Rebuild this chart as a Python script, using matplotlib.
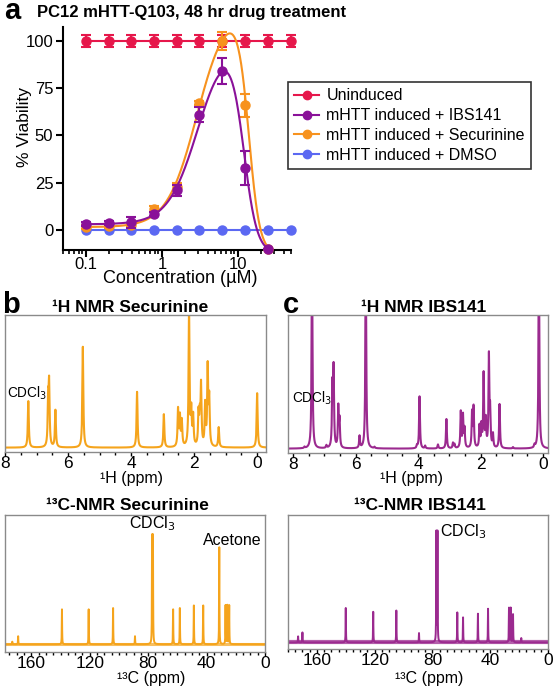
import numpy as np
import matplotlib
matplotlib.use('Agg')
import matplotlib.pyplot as plt
from matplotlib.lines import Line2D
from matplotlib.ticker import LogLocator, NullFormatter, FixedLocator, FixedFormatter, MultipleLocator

plt.rcParams['font.family'] = ['Liberation Sans', 'DejaVu Sans']

W, H = 555, 689

# ---- panel a: viability data ----
conc = [0.1, 0.2, 0.39, 0.78, 1.56, 3.125, 6.25, 12.5, 25, 50]
uninduced = [100, 100, 100, 100, 100, 100, 100, 100, 100, 100]
uninduced_err = [3, 3, 3, 3, 3, 3, 3, 3, 3, 3]
dmso = [0, 0, 0, 0, 0, 0, 0, 0, 0, 0]
conc_drug = [0.1, 0.2, 0.39, 0.78, 1.56, 3.125, 6.25, 12.5, 25]
ibs141 = [3, 3.5, 4, 8.5, 21, 61, 84, 33, -10]
ibs141_err = [1, 1, 3, 1, 3, 4, 7, 9, 0]
securinine = [1.5, 2, 2.5, 11, 23, 67, 100, 66, -10]
securinine_err = [1, 1, 1, 1.5, 2, 1, 5, 6, 0]

# bell-shaped dose-response fit parameters (plateau1, dip, plateau2, logEC1, n1, logEC2, n2)
ibs141_fit = [3, 105, -12, 0.477, 2.2, 1.078, 4.96]
securinine_fit = [1.5, 120, -12, 0.462, 2.2, 1.144, 6.0]

series_names = ['Uninduced', 'mHTT induced + IBS141',
                'mHTT induced + Securinine', 'mHTT induced + DMSO']
RED, PURPLE, ORANGE, BLUE = '#E6174B', '#8A1199', '#F7921E', '#5B68F2'

# ---- NMR peak lists (ppm, relative height) ----
h1_sec_ppm = [7.26, 6.63, 6.60, 6.40, 5.53, 3.81, 2.96, 2.51, 2.45, 2.39, 2.16,
              2.09, 2.03, 1.86, 1.82, 1.78, 1.65, 1.57, 1.52, 1.22, 0.00]
h1_sec_int = [0.35, 0.33, 0.45, 0.28, 0.76, 0.42, 0.25, 0.28, 0.22, 0.19, 1.05,
              0.25, 0.22, 0.24, 0.20, 0.45, 0.31, 0.59, 0.35, 0.15, 0.41]

h1_ibs_ppm = [7.63, 7.39, 6.93, 6.74, 6.70, 6.55, 6.51, 5.87, 5.67, 5.39, 4.03,
              3.95, 3.77, 3.36, 3.09, 2.88, 2.83, 2.63, 2.56, 2.51, 2.27, 2.22,
              2.03, 1.97, 1.90, 1.83, 1.73, 1.69, 1.60, 1.39, 0.96, 0.27, 0.13]
h1_ibs_int = [0.01, 1.5, 0.02, 0.45, 0.58, 0.30, 0.20, 0.09, 1.5, 0.01, 0.02,
              0.39, 0.02, 0.03, 0.22, 0.04, 0.03, 0.27, 0.24, 0.14, 0.26, 0.30,
              0.16, 0.16, 0.55, 0.20, 0.68, 0.25, 0.10, 0.33, 0.01, 0.02, 1.5]

c13_sec_ppm = [173, 169, 139, 120.7, 104, 89, 77.3, 76.7, 62.9, 58.3, 48.7,
               42.3, 31.3, 27.0, 25.8, 24.5]
c13_sec_int = [0.02, 0.062, 0.27, 0.27, 0.28, 0.062, 0.82, 0.82, 0.27, 0.28,
               0.30, 0.30, 0.75, 0.30, 0.30, 0.30]

c13_ibs_ppm = [173, 170, 140, 121, 105, 89.3, 77.3, 76.5, 62.8, 58.8, 48.5,
               41.5, 27.0, 25.8, 24.2, 18.5]
c13_ibs_int = [0.047, 0.078, 0.27, 0.24, 0.25, 0.073, 0.86, 0.86, 0.235, 0.196,
               0.225, 0.264, 0.27, 0.27, 0.22, 0.034]

NMR_ORANGE = '#F5A41C'
NMR_PURPLE = '#9B2A8F'


def rect(x0, y0, x1, y1):
    """pixel box (top-left origin) -> figure fraction rect"""
    return [x0 / W, 1 - y1 / H, (x1 - x0) / W, (y1 - y0) / H]


def fx(x):
    return x / W


def fy(y):
    return 1 - y / H


def bell(x, p):
    p1, dip, p2, le1, n1, le2, n2 = p
    lx = np.log10(x)
    s1 = (p1 - dip) / (1 + 10 ** ((lx - le1) * n1))
    s2 = (p2 - dip) / (1 + 10 ** ((le2 - lx) * n2))
    return dip + s1 + s2


def spectrum(ppm, inten, lo, hi, width, step):
    grid = np.arange(lo, hi, step)
    y = np.zeros_like(grid)
    for p, h in zip(ppm, inten):
        y += h * width ** 2 / ((grid - p) ** 2 + width ** 2)
    return grid, y


fig = plt.figure(figsize=(W / 100, H / 100), dpi=100)

# ================= panel a =================
ax = fig.add_axes(rect(63, 27, 291, 250))
ax.set_xscale('log')
ax.set_xlim(0.05, 50)
ax.set_ylim(-10.6, 107.4)

ax.errorbar(conc, uninduced, yerr=uninduced_err, fmt='-o', color=RED, ms=6.5,
            lw=1.5, capsize=3.5, elinewidth=1.5, capthick=1.5, clip_on=False, zorder=3)
ax.plot(conc, dmso, '-o', color=BLUE, ms=6.5, lw=1.5, clip_on=False, zorder=3)

xs = np.logspace(-1, np.log10(25), 400)
ax.plot(xs, bell(xs, securinine_fit), color=ORANGE, lw=1.5, zorder=4, clip_on=False)
ax.errorbar(conc_drug, securinine, yerr=securinine_err, fmt='o', color=ORANGE,
            ms=6.5, capsize=3.5, elinewidth=1.5, capthick=1.5, clip_on=False, zorder=4)
ax.plot(xs, bell(xs, ibs141_fit), color=PURPLE, lw=1.5, zorder=5, clip_on=False)
ax.errorbar(conc_drug, ibs141, yerr=ibs141_err, fmt='o', color=PURPLE,
            ms=6.5, capsize=3.5, elinewidth=1.5, capthick=1.5, clip_on=False, zorder=5)

for s in ['top', 'right']:
    ax.spines[s].set_visible(False)
for s in ['left', 'bottom']:
    ax.spines[s].set_linewidth(1.5)
ax.set_yticks([0, 25, 50, 75, 100])
ax.xaxis.set_major_locator(FixedLocator([0.1, 1, 10]))
ax.xaxis.set_major_formatter(FixedFormatter(['0.1', '1', '10']))
ax.xaxis.set_minor_locator(LogLocator(base=10, subs=np.arange(2, 10)))
ax.xaxis.set_minor_formatter(NullFormatter())
ax.tick_params(axis='y', which='major', labelsize=12, width=1.5, length=5, pad=2)
ax.tick_params(axis='x', which='major', labelsize=12, width=1.5, length=5, pad=0)
ax.tick_params(axis='x', which='minor', width=1.2, length=3)

fig.text(fx(25), fy(127), '% Viability', rotation=90, ha='center', va='center', fontsize=12.5)
fig.text(fx(180), fy(279), 'Concentration (µM)', ha='center', va='center', fontsize=13)
fig.text(fx(37), fy(13), 'PC12 mHTT-Q103, 48 hr drug treatment', ha='left',
         va='center', fontsize=12, fontweight='bold')

handles = [Line2D([], [], color=c, marker='o', ms=6, lw=1.5)
           for c in [RED, PURPLE, ORANGE, BLUE]]
leg = fig.legend(handles, series_names, loc='upper left',
                 bbox_to_anchor=(fx(288), fy(82)), fontsize=11.5, frameon=True,
                 fancybox=False, edgecolor='black', borderpad=0.4,
                 labelspacing=0.3, handlelength=1.55, handletextpad=0.45,
                 borderaxespad=0)
leg.get_frame().set_linewidth(1.2)

# ================= NMR panels =================
def nmr_axes(box, xlim, ylim, major, minor):
    a = fig.add_axes(rect(*box))
    a.set_xlim(*xlim)
    a.set_ylim(*ylim)
    a.set_yticks([])
    for s in a.spines.values():
        s.set_color('#8a8a8a')
        s.set_linewidth(1.0)
    a.xaxis.set_major_locator(MultipleLocator(major))
    a.xaxis.set_minor_locator(MultipleLocator(minor))
    a.tick_params(axis='x', which='major', labelsize=12.5, length=3, width=1, pad=0)
    a.tick_params(axis='x', which='minor', length=2, width=1)
    return a


# b: 1H securinine
ax_b1 = nmr_axes((5, 315, 266, 452), (8.0, -0.28), (-0.033, 1.0), 2, 0.5)
g, y = spectrum(h1_sec_ppm, h1_sec_int, -0.3, 8.1, 0.018, 0.001)
ax_b1.plot(g, y, color=NMR_ORANGE, lw=1.5)
ax_b1.text(7.93, 0.41, 'CDCl$_3$', fontsize=9.8, ha='left', va='center')

# c: 1H IBS141
ax_c1 = nmr_axes((288, 315, 548, 453), (8.16, -0.16), (-0.0325, 1.0), 2, 0.5)
g, y = spectrum(h1_ibs_ppm, h1_ibs_int, -0.2, 8.2, 0.016, 0.001)
ax_c1.plot(g, y, color=NMR_PURPLE, lw=1.5)
ax_c1.text(8.04, 0.38, 'CDCl$_3$', fontsize=9.8, ha='left', va='center')

# b: 13C securinine
ax_b2 = nmr_axes((5, 515, 265, 652), (178, 0), (-0.06, 1.0), 40, 5)
g, y = spectrum(c13_sec_ppm, c13_sec_int, 0, 180, 0.12, 0.01)
ax_b2.plot(g, y, color=NMR_ORANGE, lw=1.4)
ax_b2.axhline(0, color=NMR_ORANGE, lw=2.2, alpha=0.7)
ax_b2.text(77.5, 0.93, 'CDCl$_3$', fontsize=11.5, ha='center', va='center')
ax_b2.text(22.6, 0.8, 'Acetone', fontsize=11.5, ha='center', va='center')

# c: 13C IBS141
ax_c2 = nmr_axes((288, 515, 548, 649), (180, 0), (-0.052, 1.0), 40, 5)
g, y = spectrum(c13_ibs_ppm, c13_ibs_int, 0, 180, 0.12, 0.01)
ax_c2.plot(g, y, color=NMR_PURPLE, lw=1.4)
ax_c2.axhline(0, color=NMR_PURPLE, lw=3.0, alpha=0.75)
ax_c2.text(74.8, 0.87, 'CDCl$_3$', fontsize=11.5, ha='left', va='center')

# NMR titles and axis labels
fig.text(fx(130), fy(307), '¹H NMR Securinine', ha='center', va='center',
         fontsize=12.5, fontweight='bold')
fig.text(fx(424), fy(307), '¹H NMR IBS141', ha='center', va='center',
         fontsize=12.5, fontweight='bold')
fig.text(fx(127), fy(505), '¹³C-NMR Securinine', ha='center', va='center',
         fontsize=12.5, fontweight='bold')
fig.text(fx(420), fy(505), '¹³C-NMR IBS141', ha='center', va='center',
         fontsize=12.5, fontweight='bold')
fig.text(fx(132), fy(478), '¹H (ppm)', ha='center', va='center', fontsize=11.5)
fig.text(fx(412), fy(479), '¹H (ppm)', ha='center', va='center', fontsize=11.5)
fig.text(fx(151), fy(678), '¹³C (ppm)', ha='center', va='center', fontsize=11.5)
fig.text(fx(429), fy(678), '¹³C (ppm)', ha='center', va='center', fontsize=11.5)

# panel letters
fig.text(fx(4), fy(19), 'a', fontsize=21, fontweight='bold', va='baseline')
fig.text(fx(2), fy(313), 'b', fontsize=21, fontweight='bold', va='baseline')
fig.text(fx(283), fy(313), 'c', fontsize=21, fontweight='bold', va='baseline')

fig.savefig('out.png', dpi=100)
